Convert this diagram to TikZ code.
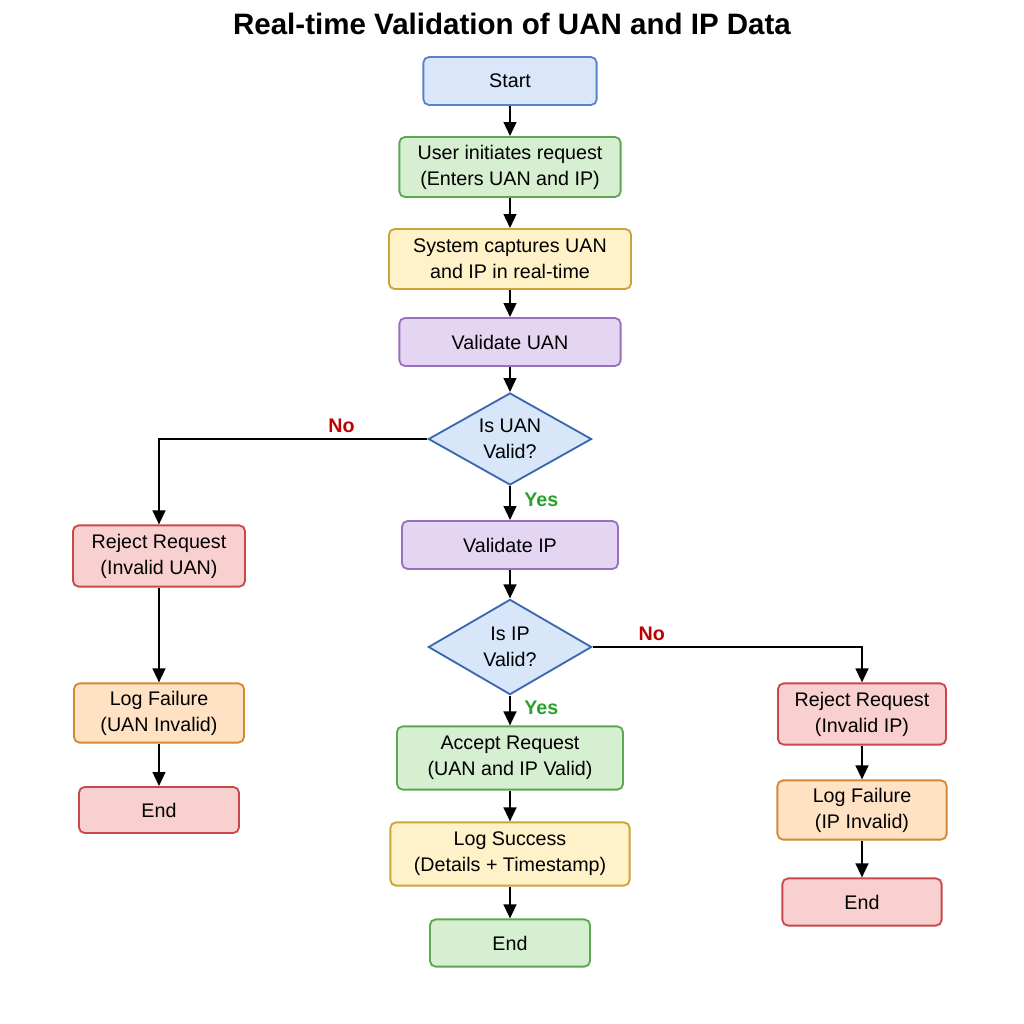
\documentclass[tikz,border=0pt]{standalone}
\usepackage{fontspec}
\setmainfont{Liberation Sans}
\usetikzlibrary{shapes.geometric,arrows.meta}
\definecolor{bluefill}{HTML}{DAE7FB}
\definecolor{blueline}{HTML}{5A82C8}
\definecolor{greenfill}{HTML}{D5EFD0}
\definecolor{greenline}{HTML}{5BA850}
\definecolor{yellowfill}{HTML}{FFF2C8}
\definecolor{yellowline}{HTML}{C9A43A}
\definecolor{purplefill}{HTML}{E4D5F2}
\definecolor{purpleline}{HTML}{9B6FC0}
\definecolor{redfill}{HTML}{F9D0D0}
\definecolor{redline}{HTML}{C9484A}
\definecolor{orangefill}{HTML}{FFE2C4}
\definecolor{orangeline}{HTML}{D08A30}
\definecolor{diafill}{HTML}{D8E6FA}
\definecolor{dialine}{HTML}{3A68AE}
\definecolor{nored}{HTML}{C00000}
\definecolor{yesgreen}{HTML}{2CA02C}
\tikzset{box/.style={rectangle,rounded corners=4pt,line width=1.3pt,align=center,inner sep=2pt,
  font=\fontsize{14}{18.5}\selectfont}}
\tikzset{bluebox/.style={box,draw=blueline,fill=bluefill}}
\tikzset{greenbox/.style={box,draw=greenline,fill=greenfill}}
\tikzset{yellowbox/.style={box,draw=yellowline,fill=yellowfill}}
\tikzset{purplebox/.style={box,draw=purpleline,fill=purplefill}}
\tikzset{redbox/.style={box,draw=redline,fill=redfill}}
\tikzset{orangebox/.style={box,draw=orangeline,fill=orangefill}}
\tikzset{decision/.style={diamond,draw=dialine,fill=diafill,line width=1.3pt,align=center,inner sep=0pt,
  shape aspect=1.8,minimum width=4.08cm,minimum height=2.3cm,font=\fontsize{14}{18.5}\selectfont}}
\tikzset{arr/.style={-{Triangle[length=10pt,width=9pt]},line width=1.7pt}}
\tikzset{nolbl/.style={text=nored,font=\bfseries\fontsize{14}{16}\selectfont}}
\tikzset{yeslbl/.style={text=yesgreen,font=\bfseries\fontsize{14}{16}\selectfont}}

\begin{document}
\begin{tikzpicture}[x=0.025cm,y=-0.025cm]
  \useasboundingbox[fill=white] (0,0) rectangle (1024,1024);
  \node[font=\bfseries\fontsize{21}{24}\selectfont] (title) at (512,24) {Real-time Validation of UAN and IP Data};

  % main column
  \node[bluebox,minimum width=4.33cm,minimum height=1.2cm] (start) at (510,81) {Start};
  \node[greenbox,minimum width=5.53cm,minimum height=1.5cm] (user) at (510,167) {User initiates request\\(Enters UAN and IP)};
  \node[yellowbox,minimum width=6.05cm,minimum height=1.5cm] (capture) at (510,259) {System captures UAN\\and IP in real-time};
  \node[purplebox,minimum width=5.53cm,minimum height=1.2cm] (valuan) at (510,342) {Validate UAN};
  \node[decision] (uanok) at (510,439) {Is UAN\\Valid?};
  \node[purplebox,minimum width=5.4cm,minimum height=1.2cm] (valip) at (510,545) {Validate IP};
  \node[decision,minimum height=2.38cm] (ipok) at (510,647) {Is IP\\Valid?};
  \node[greenbox,minimum width=5.65cm,minimum height=1.58cm] (accept) at (510,758) {Accept Request\\(UAN and IP Valid)};
  \node[yellowbox,minimum width=5.98cm,minimum height=1.58cm] (logok) at (510,854) {Log Success\\(Details + Timestamp)};
  \node[greenbox,minimum width=4cm,minimum height=1.18cm] (endok) at (510,943) {End};

  % UAN failure branch
  \node[redbox,minimum width=4.3cm,minimum height=1.53cm] (rejuan) at (159,556) {Reject Request\\(Invalid UAN)};
  \node[orangebox,minimum width=4.25cm,minimum height=1.48cm] (loguan) at (159,713) {Log Failure\\(UAN Invalid)};
  \node[redbox,minimum width=4cm,minimum height=1.15cm] (enduan) at (159,810) {End};

  % IP failure branch
  \node[redbox,minimum width=4.2cm,minimum height=1.53cm] (rejip) at (862,714) {Reject Request\\(Invalid IP)};
  \node[orangebox,minimum width=4.23cm,minimum height=1.48cm] (logip) at (862,810) {Log Failure\\(IP Invalid)};
  \node[redbox,minimum width=3.98cm,minimum height=1.18cm] (endip) at (862,902) {End};

  \draw[arr] (start) -- (user);
  \draw[arr] (user) -- (capture);
  \draw[arr] (capture) -- (valuan);
  \draw[arr] (valuan) -- (uanok);
  \draw[arr] (uanok) -- node[yeslbl,right,pos=0.4,xshift=6pt] {Yes} (valip);
  \draw[arr] (valip) -- (ipok);
  \draw[arr] (ipok) -- node[yeslbl,right,pos=0.4,xshift=6pt] {Yes} (accept);
  \draw[arr] (accept) -- (logok);
  \draw[arr] (logok) -- (endok);

  \draw[arr] (uanok.west) -| node[nolbl,above,pos=0.16] {No} (rejuan.north);
  \draw[arr] (rejuan) -- (loguan);
  \draw[arr] (loguan) -- (enduan);

  \draw[arr] (ipok.east) -| node[nolbl,above,pos=0.11] {No} (rejip.north);
  \draw[arr] (rejip) -- (logip);
  \draw[arr] (logip) -- (endip);
\end{tikzpicture}
\end{document}
